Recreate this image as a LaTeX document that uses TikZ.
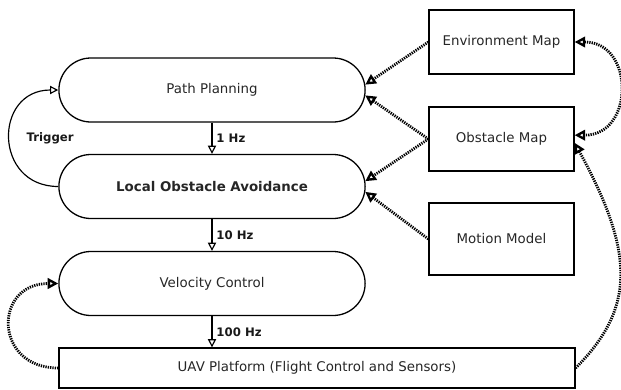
\documentclass[tikz,border=0pt]{standalone}
\usepackage{fontspec}
\setmainfont{DejaVu Sans}
\usetikzlibrary{arrows.meta,shapes.misc}

\tikzset{
  stage/.style={rounded rectangle, draw, line width=1.1pt, minimum width=9.42cm,
    minimum height=1.92cm, text=black!85, font=\fontsize{11.4}{13}\selectfont},
  modelbox/.style={rectangle, draw, line width=1.1pt, minimum width=4.35cm,
    minimum height=1.92cm, text=black!85, font=\fontsize{11.4}{13}\selectfont},
  rate/.style={font=\fontsize{10}{12}\selectfont\bfseries, text=black!90},
  flow/.style={line width=1pt, -{Triangle[open,length=7pt,width=7pt]}},
  feedtip/.tip={Triangle[open,length=9pt,width=9pt,line width=2pt]},
  feed/.style={line width=2.4pt, dash pattern=on 1.1pt off 0.9pt, -{feedtip}},
}

\begin{document}
\begin{tikzpicture}[x=0.03cm, y=-0.03cm]
            \useasboundingbox (0,0) rectangle (621,389);
            \def\Xl{212};
            \def\Xr{501.5};

            % control chain
            \node[stage] (pp) at (\Xl, 90) {Path Planning};
            \node[stage] (loa) at (\Xl, 186.5) {\bfseries Local Obstacle Avoidance};
            \node[stage] (vc) at (\Xl, 283.5) {Velocity Control};
            \node[modelbox, minimum width=15.48cm, minimum height=1.2cm] (uav) at (317, 368)
                {UAV Platform (Flight Control and Sensors)};

            % models
            \node[modelbox] (env) at (\Xr, 42) {Environment Map};
            \node[modelbox] (obs) at (\Xr, 139) {Obstacle Map};
            \node[modelbox, minimum height=2.16cm] (motion) at (\Xr, 239) {Motion Model};

            % rates
            \draw[flow] (pp.south) -- node[rate, right] (hz1) {1 Hz} (loa.north);
            \draw[flow] (loa.south) -- node[rate, right] (hz10) {10 Hz} (vc.north);
            \draw[flow] (vc.south) -- node[rate, right] (hz100) {100 Hz} (vc.south |- uav.north);

            % trigger
            \draw[flow] (loa.west) .. controls +(-65,0) and +(-65,0) .. (pp.west)
                node[rate, midway, right=0.38cm] (trig) {Trigger};

            % map inputs
            \draw[feed] (env.west) -- (pp.2);
            \draw[feed] (obs.west) -- (pp.-2);
            \draw[feed] (obs.west) -- (loa.2);
            \draw[feed] (motion.west) -- (loa.-2);

            % feedback
            \draw[feed, {feedtip}-{feedtip}]
                (env.east) .. controls +(60,0) and +(60,0) .. (obs.3);
            \draw[feed] (uav.east) .. controls +(60,-60) and +(60,110) .. (obs.-3);
            \draw[feed] (uav.west) .. controls +(-65,0) and +(-65,0) .. (vc.west);

        \end{tikzpicture}
\end{document}
